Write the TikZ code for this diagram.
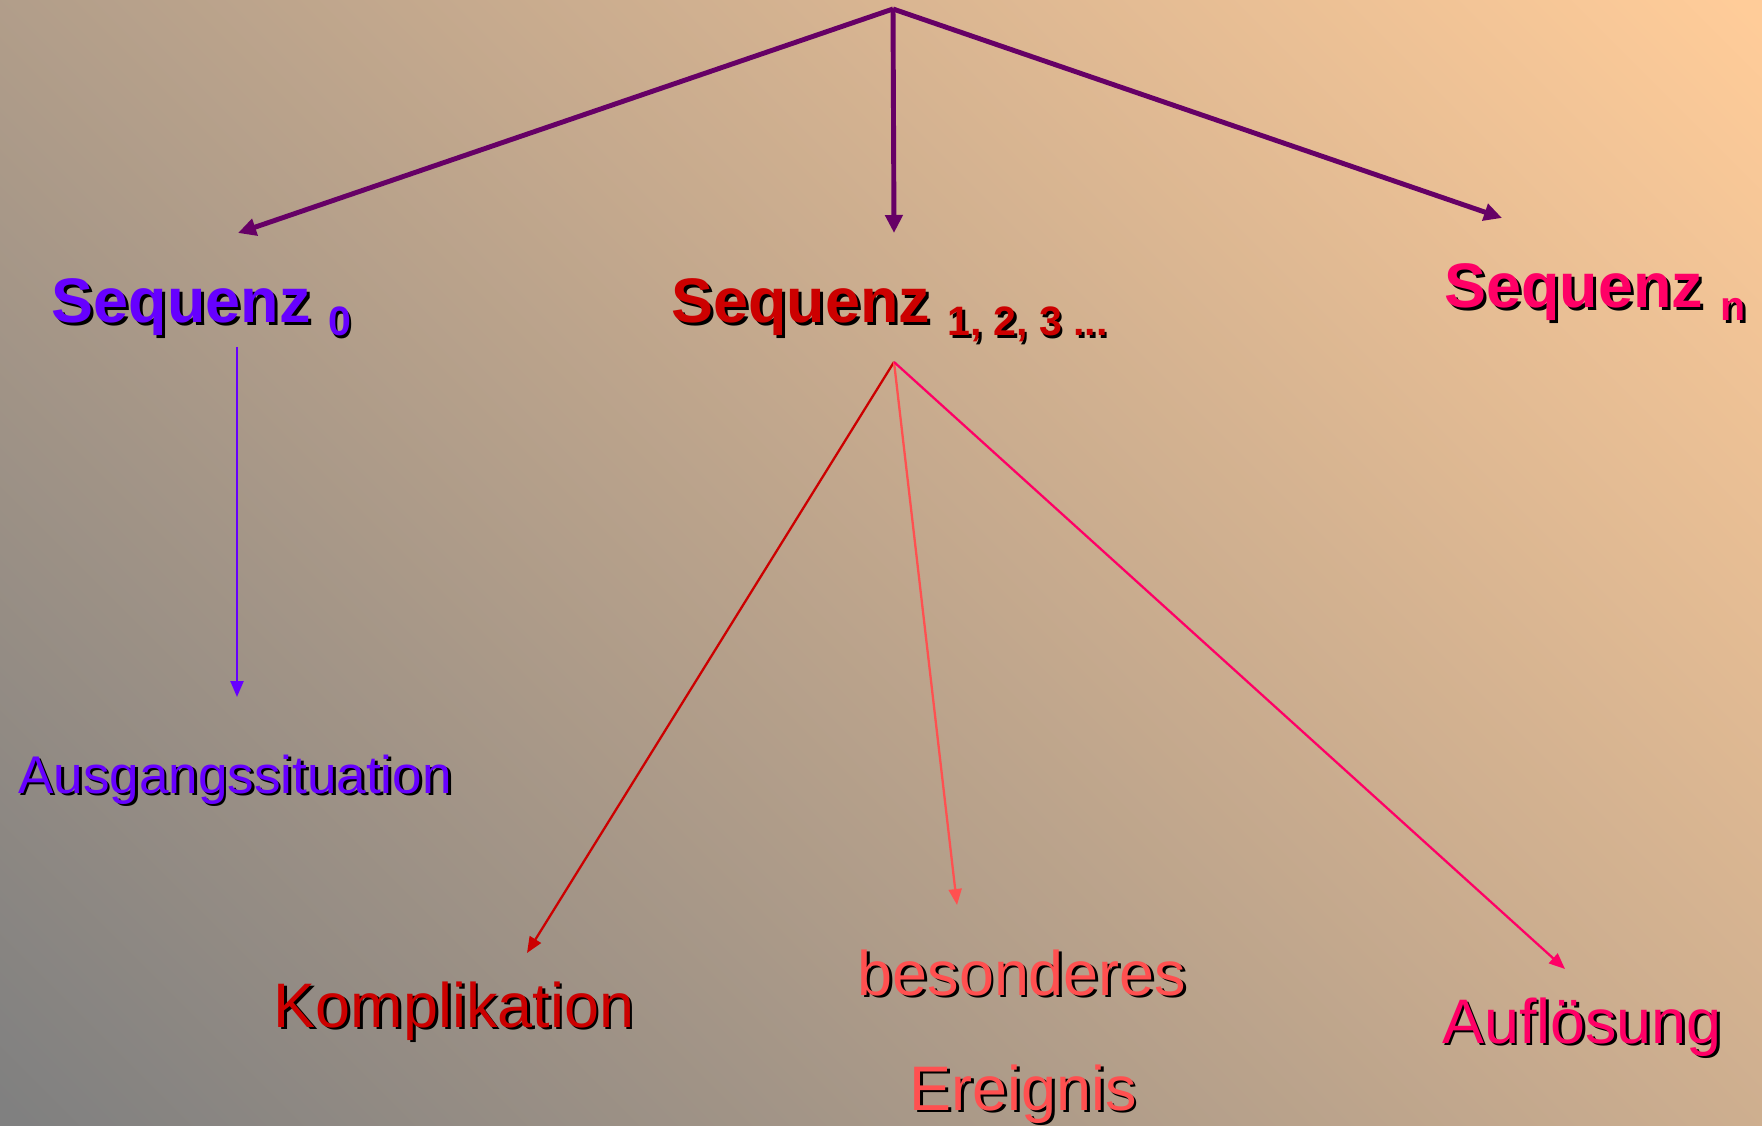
\documentclass[tikz,border=0pt]{standalone}
\usepackage{fontspec}
\setmainfont{Liberation Sans}
\usetikzlibrary{arrows.meta}
\definecolor{bgdark}{RGB}{128,128,128}
\definecolor{bgpeach}{RGB}{255,204,153}
\definecolor{toplila}{HTML}{660066}
\definecolor{seqviolet}{HTML}{6600FF}
\definecolor{seqred}{HTML}{CC0000}
\definecolor{seqsalmon}{HTML}{FF5050}
\definecolor{seqpink}{HTML}{FF0066}
\pgfdeclarehorizontalshading{bgshade}{100bp}{color(0bp)=(bgdark); color(15bp)=(bgdark); color(85bp)=(bgpeach); color(100bp)=(bgpeach)}
\newcommand{\shtxt}[1]{\leavevmode\rlap{\kern0.8pt\raisebox{-0.8pt}{\color{black}#1}}#1}
\newcommand{\sqidx}[1]{\raisebox{-0.13cm}{\fontsize{11.7}{12}\selectfont #1}}
\begin{document}
\begin{tikzpicture}[seqnode/.style = {anchor = base,
                                      inner sep = 0pt,
                                      font = \fontsize{17.9}{21}\selectfont\bfseries},
                    leafnode/.style = {anchor = base,
                                       inner sep = 0pt,
                                       font = \fontsize{17.9}{21}\selectfont},
                    toparrow/.style = {draw = toplila,
                                       line width = 1.4pt,
                                       -{Triangle[length=0.18cm,width=0.17cm]}},
                    lowarrow/.style = {line width = 0.65pt,
                                       -{Triangle[length=0.16cm,width=0.13cm]}}]
		\shade[shading = bgshade, shading angle = 45] (0,0) rectangle (17.62,-11.25);
		% sequences
		\node[seqnode, text = seqviolet] (seq0) at (2.015,-3.23) {\shtxt{Sequenz \sqidx{0}}};
		\node[seqnode, text = seqred] (seq123) at (8.895,-3.23) {\shtxt{Sequenz \sqidx{1, 2, 3 ...}}};
		\node[seqnode, text = seqpink] (seqn) at (15.95,-3.08) {\shtxt{Sequenz \sqidx{n}}};
		% parts
		\node[leafnode, text = seqviolet, font = \fontsize{15.1}{18}\selectfont] (aus) at (2.35,-7.93) {\shtxt{Ausgangssituation}};
		\node[leafnode, text = seqred] (kompl) at (4.54,-10.27) {\shtxt{Komplikation}};
		\node[leafnode, text = seqsalmon] (bes) at (10.22,-9.95) {\shtxt{besonderes}};
		\node[leafnode, text = seqsalmon] (ereig) at (10.23,-11.10) {\shtxt{Ereignis}};
		\node[leafnode, text = seqpink] (auf) at (15.82,-10.43) {\shtxt{Auflösung}};
		% arrow ends
		\coordinate (top) at (8.93,-0.09);
		\coordinate (in0) at (2.38,-2.33);
		\coordinate (in123) at (8.94,-2.33);
		\coordinate (inn) at (15.02,-2.18);
		\coordinate (out0) at (2.37,-3.47);
		\coordinate (inaus) at (2.37,-6.97);
		\coordinate (out123) at (8.94,-3.62);
		\coordinate (inkompl) at (5.27,-9.53);
		\coordinate (inbes) at (9.57,-9.05);
		\coordinate (inauf) at (15.65,-9.69);
		\path (top) edge[toparrow] (in0)
		      (top) edge[toparrow] (in123)
		      (top) edge[toparrow] (inn);
		\path (out0) edge[lowarrow, draw = seqviolet] (inaus);
		\path (out123) edge[lowarrow, draw = seqred] (inkompl)
		      (out123) edge[lowarrow, draw = seqsalmon] (inbes)
		      (out123) edge[lowarrow, draw = seqpink] (inauf);
	\end{tikzpicture}
\end{document}
